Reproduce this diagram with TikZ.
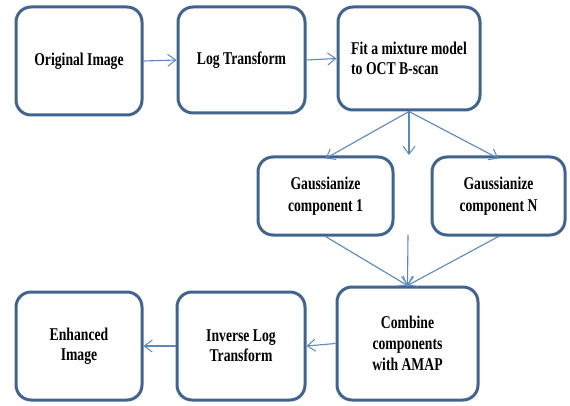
\documentclass[tikz,border=0pt]{standalone}
\usepackage{fontspec}
\setmainfont{Liberation Serif}[BoldFont={Liberation Serif Bold}, BoldFeatures={FakeStretch=0.76}, FakeStretch=0.76]
\usetikzlibrary{arrows.meta}
\definecolor{boxline}{HTML}{41648E}
\definecolor{arrline}{HTML}{5A87BD}
\tikzset{
  procbox/.style={draw=boxline, line width=3pt, rounded corners=15pt, fill=white,
    font=\fontsize{18}{20}\selectfont\bfseries, align=center, inner sep=2pt},
  conn/.style={draw=arrline, line width=1.1pt, -{Straight Barb[length=8pt,width=12pt,line width=1pt]}},
}
\begin{document}
\begin{tikzpicture}[x=1pt,y=-1pt]
\useasboundingbox (0,0) rectangle (570,406);
\node[procbox, minimum width=126pt, minimum height=108pt] (orig) at (79,61) {Original Image};
\node[procbox, minimum width=127pt, minimum height=106pt] (logt) at (241.5,60) {Log Transform};
\node[procbox, minimum width=142pt, minimum height=103pt, align=left,
  font=\fontsize{18}{20}\selectfont\bfseries] (fit) at (409,58.5) {Fit a mixture model\\to OCT B-scan};
\node[procbox, minimum width=135pt, minimum height=78pt, font=\fontsize{18}{22}\selectfont\bfseries] (g1) at (325.5,196) {Gaussianize\\component 1};
\node[procbox, minimum width=133pt, minimum height=78pt, font=\fontsize{18}{22}\selectfont\bfseries] (gN) at (498.5,196) {Gaussianize\\component N};
\node[procbox, minimum width=141pt, minimum height=113pt, font=\fontsize{18}{21}\selectfont\bfseries] (comb) at (407.5,343.5) {Combine\\components\\with AMAP};
\node[procbox, minimum width=128pt, minimum height=108pt, font=\fontsize{18}{20}\selectfont\bfseries] (inv) at (241,346) {Inverse Log\\Transform};
\node[procbox, minimum width=126pt, minimum height=108pt, font=\fontsize{18}{20}\selectfont\bfseries] (enh) at (79,346) {Enhanced\\Image};
\coordinate (midtop) at (409,155);
\coordinate (midbot) at (408,235);
\draw[conn] (orig.east) -- (logt.west);
\draw[conn] (logt.east) -- (fit.west);
\draw[conn] (fit.south) -- ([yshift=-3pt]g1.north);
\draw[conn] (fit.south) -- (midtop);
\draw[conn] (fit.south) -- ([yshift=-3pt]gN.north);
\draw[conn] (g1.south) -- (comb.north);
\draw[conn] (midbot) -- (comb.north);
\draw[conn] (gN.south) -- (comb.north);
\draw[conn] (comb.west) -- (inv.east);
\draw[conn] (inv.west) -- (enh.east);
\end{tikzpicture}
\end{document}
